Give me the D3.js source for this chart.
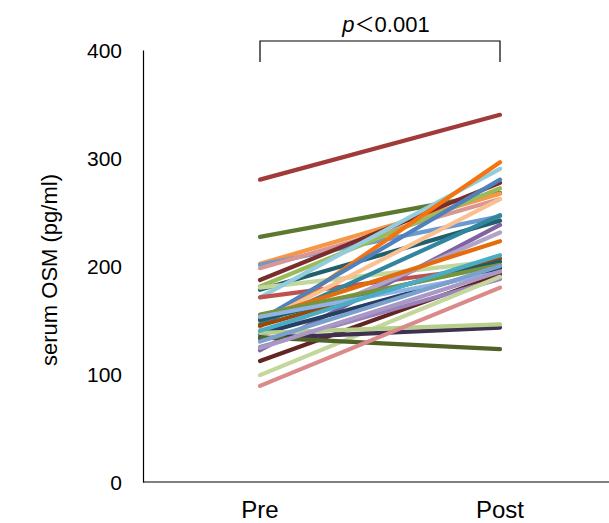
<!DOCTYPE html>
<html>
<head>
<meta charset="utf-8">
<script src="https://cdn.jsdelivr.net/npm/d3@7"></script>
<style>
  body { margin: 0; background: #fff; }
  text { font-family: "Liberation Sans", Arial, sans-serif; fill: #000; }
</style>
</head>
<body>
<svg id="chartSvg" width="609" height="523"></svg>
<script>
var chartSvg = d3.select('#chartSvg')

// data
var timePoints = ['Pre', 'Post']
var preValues  = [280, 227, 202, 201, 198, 187, 181, 178, 180, 171, 171, 144, 150, 148, 146, 122, 135, 152, 145, 150, 155, 137, 153, 112, 125, 99, 133, 134, 138, 124, 89, 140, 130]
var postValues = [340, 268, 267, 246, 262, 277, 272, 242, 205, 290, 200, 296, 280, 262, 247, 238, 231, 223, 207, 204, 201, 198, 194, 192, 188, 190, 143, 123, 146, 195, 180, 210, 200]
var yTicks = [0, 100, 200, 300, 400]
var pText = '\uFF1C0.001'

var lineColors = ['#A03B3A', '#5C7A2F', '#F79646', '#6A9AD0', '#D99694', '#7B2C2C', '#9BBB59', '#1F5F6E',
    '#C3D69B', '#93CDDD', '#C0504D', '#F5740F', '#4F81BD', '#FAC090', '#31859C', '#8064A2',
    '#B3A2C7', '#E46C0A', '#984807', '#215968', '#77933C', '#254061', '#8DB4E2', '#632523',
    '#9982B8', '#C3D69B', '#403151', '#4F6228', '#B7CF8C', '#A997C5', '#DA8A8A', '#4BACC6', '#7AA0CE']

var AxisLeft = 143, AxisBottom = 482, AxisTop = 50, AxisRight = 609
var yScale = d3.scaleLinear().domain([0, 400]).range([AxisBottom, AxisTop])
var xScale = d3.scalePoint().domain(timePoints).range([260, 500])

// axes (lines only, no tick marks)
var yAxis = d3.axisLeft(yScale).tickValues(yTicks).tickSize(0).tickPadding(21)
var gY = chartSvg.append('g')
    .attr('class', 'axis')
    .attr('transform', `translate(${AxisLeft},0)`)
    .call(yAxis)
gY.select('.domain').attr('stroke', '#000').attr('stroke-width', 1.2)
gY.selectAll('text').attr('font-size', '21px').attr('dy', '0.36em')
    .attr('font-family', '"Liberation Sans", Arial, sans-serif').attr('fill', '#000')

chartSvg.append('line')
    .attr('x1', AxisLeft).attr('x2', AxisRight)
    .attr('y1', AxisBottom).attr('y2', AxisBottom)
    .attr('stroke', '#000').attr('stroke-width', 1.2)

chartSvg.selectAll('.xlabel')
    .data(timePoints)
    .enter().append('text')
    .attr('class', 'xlabel')
    .attr('x', d => xScale(d))
    .attr('y', 518)
    .attr('text-anchor', 'middle')
    .attr('font-size', '24px')
    .text(d => d)

chartSvg.append('text')
    .attr('transform', 'translate(57,270) rotate(-90)')
    .attr('text-anchor', 'middle')
    .attr('font-size', '22px')
    .text('serum OSM (pg/ml)')

// paired lines
for (let i = 0; i < preValues.length; i++) {
    chartSvg.append('line')
        .attr('x1', xScale('Pre'))
        .attr('y1', yScale(preValues[i]))
        .attr('x2', xScale('Post'))
        .attr('y2', yScale(postValues[i]))
        .attr('stroke', lineColors[i])
        .attr('stroke-width', 4.2)
        .attr('stroke-linecap', 'round')
}

// significance bracket
chartSvg.append('path')
    .attr('d', `M${xScale('Pre')},62 V41 H${xScale('Post')} V62`)
    .attr('fill', 'none')
    .attr('stroke', '#000')
    .attr('stroke-width', 1.2)

var pLabel = chartSvg.append('text')
    .attr('x', 386)
    .attr('y', 32)
    .attr('text-anchor', 'middle')
    .attr('font-size', '22px')
pLabel.append('tspan').attr('font-style', 'italic').text('p')
pLabel.append('tspan').attr('font-family', '"Noto Sans CJK JP", sans-serif').attr('font-size', '20px').text(pText.charAt(0))
pLabel.append('tspan').text(pText.slice(1))
</script>
</body>
</html>
